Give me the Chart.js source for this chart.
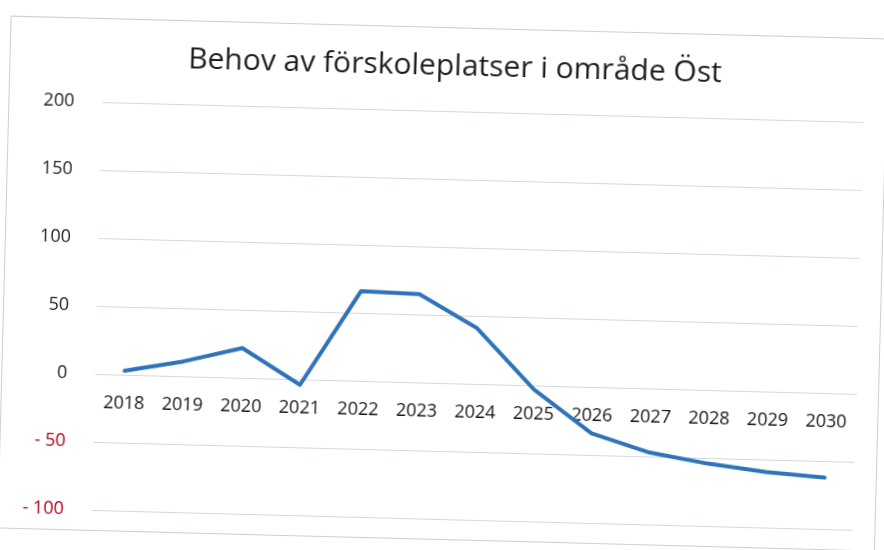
<!DOCTYPE html>
<html lang="sv">
<head>
<meta charset="utf-8">
<title>Behov av förskoleplatser i område Öst</title>
<script src="https://cdn.jsdelivr.net/npm/chart.js@4"></script>
<style>
    html, body { margin: 0; padding: 0; background: #fff; overflow: hidden; }
    /* the source is a slightly tilted scan, so the whole chart is turned a little */
    #wrap {
        position: absolute; left: 0; top: 0; width: 884px; height: 550px;
        transform: rotate(1.5deg); transform-origin: 442px 275px;
    }
    #frame {
        position: absolute; left: 4px; top: 27px; width: 876px; height: 511px;
        border: 1px solid #cfcfcf;
    }
    canvas { position: absolute; left: 0; top: 0; }
</style>
</head>
<body>
<div id="wrap">
    <div id="frame"></div>
    <canvas id="chart" width="924" height="558"></canvas>
</div>
<script>
const years = ['2018', '2019', '2020', '2021', '2022', '2023', '2024',
               '2025', '2026', '2027', '2028', '2029', '2030'];
const behov = [3, 11, 22, -4, 66, 65, 41, -3, -34, -47, -54, -59, -62];
const yMin = -100;
const yMax = 200;
const yStep = 50;

const ctx = document.getElementById('chart').getContext('2d');

new Chart(ctx, {
    type: 'line',
    data: {
        labels: years,
        datasets: [{
            label: 'Behov',
            data: behov,
            borderColor: '#2f74b8',
            borderWidth: 4,
            pointRadius: 0,
            tension: 0,
            borderCapStyle: 'round',
            borderJoinStyle: 'round'
        }]
    },
    options: {
        responsive: false,
        animation: false,
        layout: {
            padding: { left: 0, right: 25, top: 0, bottom: 25 }
        },
        plugins: {
            legend: { display: false },
            tooltip: { enabled: false },
            title: {
                display: true,
                text: 'Behov av förskoleplatser i område Öst',
                color: '#1e1e1e',
                font: { family: 'Open Sans', size: 30, weight: 'normal' },
                padding: { top: 48, bottom: 27 }
            }
        },
        scales: {
            x: {
                // labels sit just under the zero line, like the Excel original
                position: { y: 0 },
                offset: true,
                afterFit: (scale) => { scale.height = 0; },
                grid: { display: false, drawTicks: false },
                border: { display: true, color: '#d4d7de', width: 1 },
                ticks: {
                    padding: 18,
                    maxRotation: 0,
                    color: '#151515',
                    font: { family: 'Open Sans', size: 18 }
                }
            },
            y: {
                min: yMin,
                max: yMax,
                grid: { color: '#d4d7de', lineWidth: 1, drawTicks: false },
                border: { display: false },
                afterFit: (scale) => { scale.width = 98; },
                ticks: {
                    stepSize: yStep,
                    padding: 28,
                    font: { family: 'Open Sans', size: 18 },
                    color: (c) => (c.tick && c.tick.value < 0 ? '#b3001b' : '#222'),
                    callback: (v) => (v < 0 ? '- ' + Math.abs(v) : String(v))
                }
            },
            // empty spacer on the right so the title centre lands where it is in the original
            spacer: {
                position: 'right',
                min: yMin,
                max: yMax,
                grid: { display: false, drawTicks: false },
                border: { display: false },
                ticks: { display: false },
                afterFit: (scale) => { scale.width = 40; }
            }
        }
    }
});
</script>
</body>
</html>
